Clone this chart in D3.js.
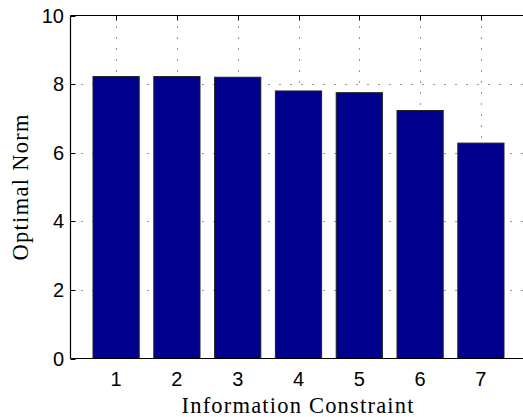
<!DOCTYPE html>
<html>
<head>
<meta charset="utf-8">
<script src="https://cdn.jsdelivr.net/npm/d3@7"></script>
<style>
  html, body { margin: 0; padding: 0; background: #fff; }
  svg { display: block; }
</style>
</head>
<body>
<svg id="chart" width="523" height="417"></svg>
<script>
const categories = [1, 2, 3, 4, 5, 6, 7];
const values = [8.22, 8.22, 8.20, 7.80, 7.75, 7.23, 6.28];
const yTicks = [0, 2, 4, 6, 8, 10];
const xLabel = "Information Constraint";
const yLabel = "Optimal Norm";

const svg = d3.select("#chart");
const W = 523, H = 417;

const x = d3.scaleLinear().domain([0.25, 7.75]).range([70.5, 526.5]);
const y = d3.scaleLinear().domain([0, 10]).range([358.5, 15.5]);
const barW = (x(2) - x(1)) * 0.76;

const sans = "'Liberation Sans', Arial, Helvetica, sans-serif";
const serif = "'Liberation Serif', 'Times New Roman', serif";

// Grid (behind bars)
const grid = svg.append("g").attr("stroke", "#333").attr("stroke-width", 1)
  .attr("stroke-dasharray", "1,10");
grid.selectAll("line.v").data(categories).join("line")
  .attr("class", "v")
  .attr("x1", d => Math.round(x(d)) + 0.5).attr("x2", d => Math.round(x(d)) + 0.5)
  .attr("y1", y(10)).attr("y2", y(0));
grid.selectAll("line.h").data(yTicks.filter(d => d > 0 && d < 10)).join("line")
  .attr("class", "h")
  .attr("x1", x.range()[0]).attr("x2", W)
  .attr("y1", d => Math.round(y(d)) + 0.5).attr("y2", d => Math.round(y(d)) + 0.5);

// Inner ticks (left axis and top axis)
const ticks = svg.append("g").attr("stroke", "#000").attr("stroke-width", 1);
ticks.selectAll("line.yt").data(yTicks).join("line")
  .attr("x1", x.range()[0]).attr("x2", x.range()[0] + 5)
  .attr("y1", d => Math.round(y(d)) + 0.5).attr("y2", d => Math.round(y(d)) + 0.5);
ticks.selectAll("line.xt").data(categories).join("line")
  .attr("x1", d => Math.round(x(d)) + 0.5).attr("x2", d => Math.round(x(d)) + 0.5)
  .attr("y1", y(10)).attr("y2", y(10) + 5);

// Bars
svg.append("g").selectAll("rect").data(categories).join("rect")
  .attr("x", (d) => x(d) - barW / 2)
  .attr("width", barW)
  .attr("y", (d, i) => y(values[i]))
  .attr("height", (d, i) => y(0) - y(values[i]))
  .attr("fill", "#00008F")
  .attr("stroke", "#222")
  .attr("stroke-width", 1);

// Axis lines
const ax = svg.append("g").attr("stroke", "#000").attr("stroke-width", 1.2).attr("fill", "none");
ax.append("line").attr("x1", x.range()[0]).attr("x2", x.range()[0]).attr("y1", y(10)).attr("y2", y(0));
ax.append("line").attr("x1", x.range()[0]).attr("x2", W).attr("y1", y(0)).attr("y2", y(0));
ax.append("line").attr("x1", x.range()[0]).attr("x2", W).attr("y1", y(10)).attr("y2", y(10));

// Tick labels
svg.append("g").selectAll("text").data(yTicks).join("text")
  .attr("x", 64).attr("y", d => y(d) + 7)
  .attr("text-anchor", "end")
  .attr("font-family", sans).attr("font-size", 20)
  .text(d => d);
svg.append("g").selectAll("text").data(categories).join("text")
  .attr("x", d => x(d)).attr("y", 386)
  .attr("text-anchor", "middle")
  .attr("font-family", sans).attr("font-size", 20)
  .text(d => d);

// Axis labels
svg.append("text")
  .attr("x", 297.5).attr("y", 413)
  .attr("text-anchor", "middle")
  .attr("font-family", serif).attr("font-size", 22.5)
  .attr("textLength", 232).attr("lengthAdjust", "spacing")
  .text(xLabel);
svg.append("text")
  .attr("transform", "translate(28,187.5) rotate(-90)")
  .attr("text-anchor", "middle")
  .attr("font-family", serif).attr("font-size", 22.5)
  .attr("textLength", 146).attr("lengthAdjust", "spacing")
  .text(yLabel);
</script>
</body>
</html>
